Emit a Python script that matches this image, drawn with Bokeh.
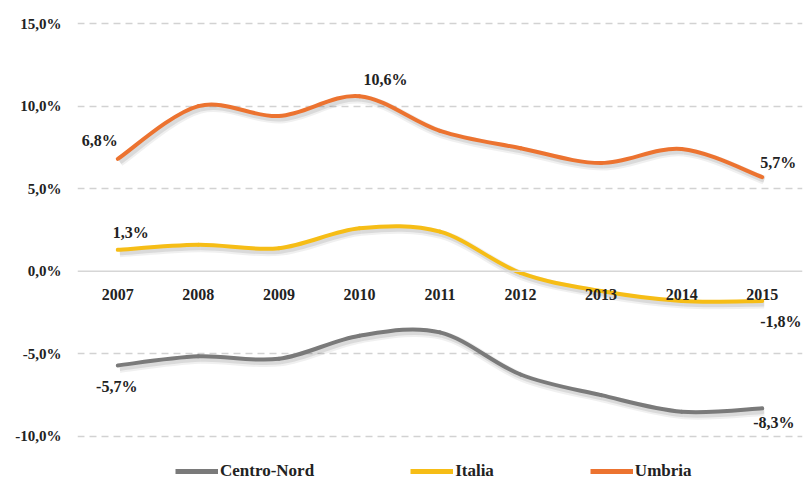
import math
from bokeh.plotting import figure
from bokeh.models import Range1d, FixedTicker, Legend, LegendItem, Span
from bokeh.core.properties import value
from bokeh.embed import file_html
from bokeh.resources import INLINE

years = [2007, 2008, 2009, 2010, 2011, 2012, 2013, 2014, 2015]
centro_nord = [-5.7, -5.15, -5.3, -3.9, -3.7, -6.25, -7.5, -8.5, -8.3]
italia = [1.3, 1.6, 1.4, 2.6, 2.4, -0.1, -1.2, -1.8, -1.8]
umbria = [6.8, 10.0, 9.4, 10.6, 8.5, 7.45, 6.55, 7.4, 5.7]
series_names = ["Centro-Nord", "Italia", "Umbria"]
series_colors = ["#7a7a7a", "#f6bd16", "#ec7330"]
y_ticks = [-10, -5, 0, 5, 10, 15]

FONT = "Liberation Serif"
PX_PER_UNIT_Y = 16.52
PX_PER_UNIT_X = 80.56

def fmt(v):
    return f"{v:.1f}%".replace(".", ",")

x0, x1 = 2006.5, 2015.5
y0, y1 = -12.788, 16.09
p = figure(width=804, height=482, x_range=Range1d(x0, x1), y_range=Range1d(y0, y1),
           output_backend="svg", toolbar_location=None, x_axis_location=None,
           min_border_left=77, min_border_right=2, min_border_top=5, min_border_bottom=0)
p.outline_line_color = None
p.background_fill_color = "white"
p.border_fill_color = "white"
p.xgrid.visible = False

# shadow ranges (shifted a couple of pixels right/down)
dx = 2.0 / PX_PER_UNIT_X
dy = 3.0 / PX_PER_UNIT_Y
p.extra_x_ranges = {"sh": Range1d(x0 - dx, x1 - dx)}
p.extra_y_ranges = {"sh": Range1d(y0 + dy, y1 + dy)}

ax = p.yaxis[0]
ax.ticker = FixedTicker(ticks=y_ticks)
ax.major_label_overrides = {t: fmt(t) for t in y_ticks}
ax.axis_line_color = None
ax.major_tick_line_color = None
ax.minor_tick_line_color = None
ax.major_tick_out = 0
ax.major_tick_in = 0
ax.minor_tick_out = 0
ax.minor_tick_in = 0
ax.major_label_standoff = 16
ax.major_label_text_font = FONT
ax.major_label_text_font_style = "bold"
ax.major_label_text_font_size = "15px"
ax.major_label_text_color = "#222222"

p.ygrid.ticker = FixedTicker(ticks=[t for t in y_ticks if t != 0])
p.ygrid.grid_line_color = "#d2d2d2"
p.ygrid.grid_line_width = 1.5
p.ygrid.grid_line_dash = "7 5"
p.add_layout(Span(location=0, dimension="width", line_color="#d6d6d6", line_width=1.5))

def bezier_parts(xs, ys):
    n = len(xs)
    out = dict(x0=[], y0=[], x1=[], y1=[], cx0=[], cy0=[], cx1=[], cy1=[])
    for i in range(n - 1):
        pa = max(i - 1, 0)
        pb = min(i + 2, n - 1)
        out["x0"].append(xs[i]); out["y0"].append(ys[i])
        out["x1"].append(xs[i + 1]); out["y1"].append(ys[i + 1])
        out["cx0"].append(xs[i] + (xs[i + 1] - xs[pa]) / 6.0)
        out["cy0"].append(ys[i] + (ys[i + 1] - ys[pa]) / 6.0)
        out["cx1"].append(xs[i + 1] - (xs[pb] - xs[i]) / 6.0)
        out["cy1"].append(ys[i + 1] - (ys[pb] - ys[i]) / 6.0)
    return out

all_series = [centro_nord, italia, umbria]
legend_items = []
for name, col, vals in zip(series_names, series_colors, all_series):
    parts = bezier_parts(years, vals)
    p.bezier(**parts, line_color="#000000", line_alpha=0.06, line_width=9,
             x_range_name="sh", y_range_name="sh", line_cap="butt")
    p.bezier(**parts, line_color="#000000", line_alpha=0.09, line_width=5,
             x_range_name="sh", y_range_name="sh", line_cap="butt")
    p.bezier(**parts, line_color=col, line_width=4, line_cap="round")
    lr = p.line(x=[float("nan")], y=[float("nan")], line_color=col, line_width=5)
    legend_items.append(LegendItem(label=name, renderers=[lr]))

# data labels
labels = [
    (years[0], umbria[0], "right", 0, -18),
    (years[3], umbria[3], "left", 4, -17),
    (years[8], umbria[8], "left", -2, -15),
    (years[0], italia[0], "left", -5, -17),
    (years[8], italia[8], "left", -2, 20),
    (years[0], centro_nord[0], "center", -1, 21),
    (years[8], centro_nord[8], "left", -9, 14),
]
for x, y, al, xo, yo in labels:
    p.text(x=[x], y=[y], text=[fmt(y)], text_align=al, text_baseline="middle",
           x_offset=xo, y_offset=yo, text_font=value(FONT), text_font_style="bold",
           text_font_size="16px", text_color="#222222")

# year labels along the zero line
p.text(x=years, y=[0] * len(years), text=[str(y) for y in years], text_align="center",
       text_baseline="middle", y_offset=23, text_font=value(FONT), text_font_style="bold",
       text_font_size="16px", text_color="#222222")

legend = Legend(items=legend_items, orientation="horizontal", location=(98, 1),
                spacing=96, glyph_width=43, glyph_height=20, label_standoff=2,
                padding=0, margin=0, border_line_color=None, background_fill_alpha=0,
                label_text_font=FONT, label_text_font_style="bold",
                label_text_font_size="17px", label_text_color="#222222")
p.add_layout(legend)

open("out.html", "w").write(file_html(p, INLINE))
